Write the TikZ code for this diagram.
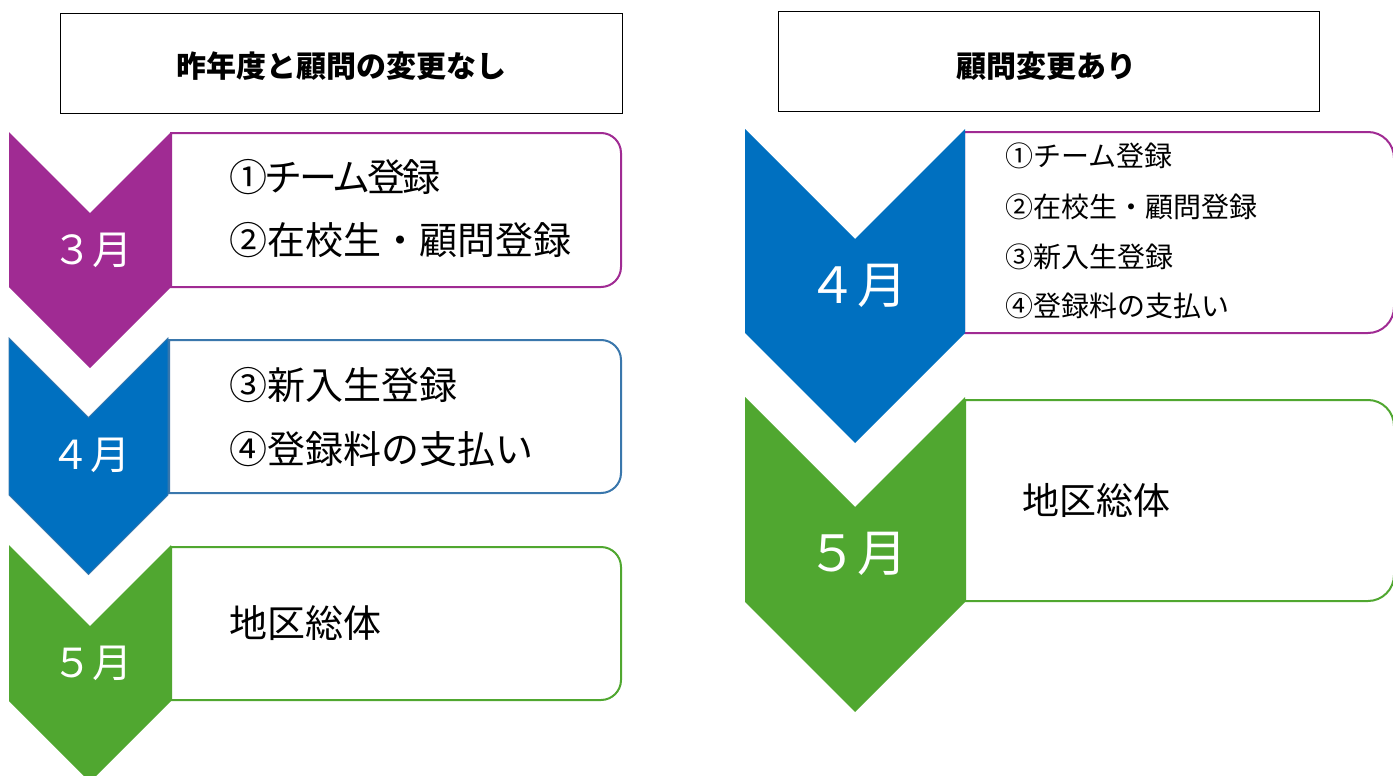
\documentclass[tikz,border=0pt]{standalone}
\usepackage{fontspec}
\setmainfont{Noto Sans CJK JP}
\definecolor{cpurple}{RGB}{160,43,147}
\definecolor{cblue}{RGB}{0,112,192}
\definecolor{cgreen}{RGB}{80,167,48}
\definecolor{csteel}{RGB}{58,119,172}
\begin{document}
\begin{tikzpicture}[x=1pt,y=-1pt,
  titlebox/.style={draw=black, line width=0.9pt, inner sep=0pt},
  titletext/.style={inner sep=0pt, font=\fontsize{30}{34}\selectfont\bfseries},
  itemL/.style={anchor=west, inner sep=0pt, font=\fontsize{38}{42}\selectfont},
  itemR/.style={anchor=west, inner sep=0pt, font=\fontsize{28}{32}\selectfont},
  monthL/.style={text=white, inner sep=0pt, font=\fontsize{40}{44}\selectfont},
  monthR/.style={text=white, inner sep=0pt, font=\fontsize{50}{54}\selectfont},
  boxline/.style={line width=2pt, fill=white}]
\useasboundingbox (0,0) rectangle (1393,776);
\clip (0,0) rectangle (1393,776);

% title boxes
\node[titlebox, minimum width=562pt, minimum height=100pt] (t1) at (341,63) {};
\node[titletext] (t1t) at (341,66) {昨年度と顧問の変更なし};
\node[titlebox, minimum width=541pt, minimum height=100pt] (t2) at (1048.5,61) {};
\node[titletext] (t2t) at (1046,66) {顧問変更あり};

% ---- left column ----
\draw[boxline, draw=cpurple] (171,133) [rounded corners=20pt] -- (621,133) -- (621,287) [sharp corners] -- (171,287) -- cycle;
\draw[boxline, draw=csteel] (169,340) [rounded corners=20pt] -- (621,340) -- (621,493) [sharp corners] -- (169,493) -- cycle;
\draw[boxline, draw=cgreen] (171,547) [rounded corners=20pt] -- (621,547) -- (621,700) [sharp corners] -- (171,700) -- cycle;

\fill[cpurple] (9,132) -- (90,213) -- (171,132) -- (171,287) -- (90,368) -- (9,287) -- cycle;
\filldraw[fill=cblue, draw=csteel, line width=0.8pt] (9,338) -- (88.5,417.5) -- (168,338) -- (168,495) -- (88.5,574.5) -- (9,495) -- cycle;
\fill[cgreen] (9,545) -- (90,626) -- (171,545) -- (171,701) -- (90,782) -- (9,701) -- cycle;

\node[monthL] (m3) at (92,250) {３月};
\node[monthL] (m4) at (90,455) {４月};
\node[monthL] (m5) at (92,663) {５月};

\node[itemL] (a1) at (229,177) {\addfontfeature{LetterSpace=-8}①チーム登録};
\node[itemL] (a2) at (229,240) {②在校生・顧問登録};
\node[itemL] (a3) at (229,385) {③新入生登録};
\node[itemL] (a4) at (229,449) {④登録料の支払い};
\node[itemL] (a5) at (229,623) {地区総体};

% ---- right column ----
\draw[boxline, draw=cpurple] (964,132) [rounded corners=26pt] -- (1394,132) -- (1394,333) [sharp corners] -- (964,333) -- cycle;
\draw[boxline, draw=cgreen] (965,400) [rounded corners=26pt] -- (1394,400) -- (1394,601) [sharp corners] -- (965,601) -- cycle;

\fill[cblue] (745,129) -- (855,239) -- (965,129) -- (965,333) -- (855,443) -- (745,333) -- cycle;
\fill[cgreen] (745,397) -- (855,507) -- (965,397) -- (965,602) -- (855,712) -- (745,602) -- cycle;

\node[monthR] (n4) at (857,286) {４月};
\node[monthR] (n5) at (857,554) {５月};

\node[itemR] (b1) at (1005,156) {①チーム登録};
\node[itemR] (b2) at (1005,207) {②在校生・顧問登録};
\node[itemR] (b3) at (1005,257) {③新入生登録};
\node[itemR] (b4) at (1005,306) {④登録料の支払い};
\node[itemL, font=\fontsize{37}{40}\selectfont] (b5) at (1022,500) {地区総体};
\end{tikzpicture}
\end{document}
